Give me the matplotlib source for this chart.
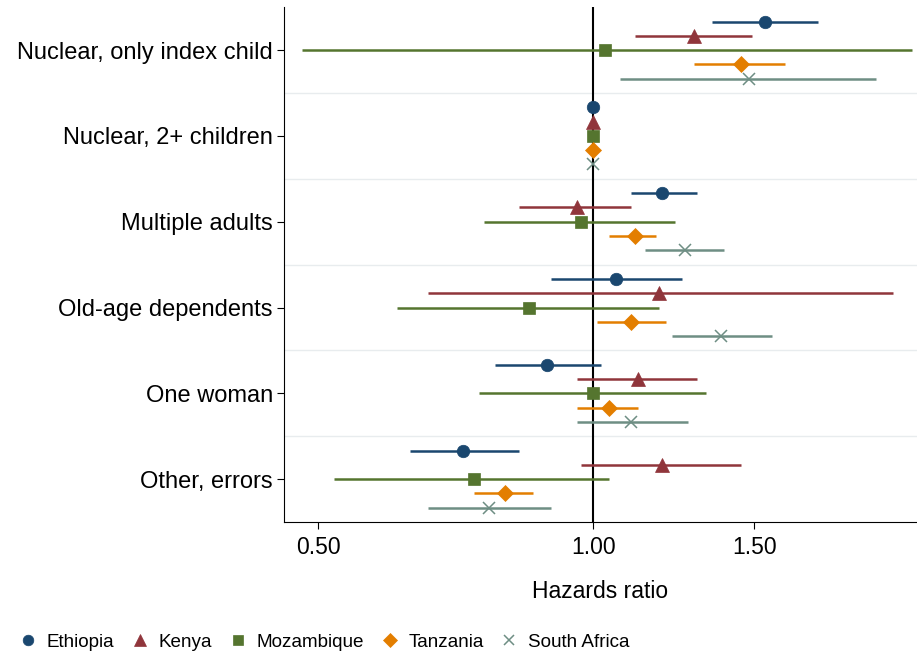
import numpy as np
import matplotlib.pyplot as plt

# Categories (top to bottom) and countries
categories = ['Nuclear, only index child', 'Nuclear, 2+ children', 'Multiple adults',
              'Old-age dependents', 'One woman', 'Other, errors']
countries = ['Ethiopia', 'Kenya', 'Mozambique', 'Tanzania', 'South Africa']

# Hazard ratios (point, lower, upper) per country, in category order
eth_hr = [1.54, 1.00, 1.19, 1.06, 0.89, 0.72]
eth_lo = [1.35, 1.00, 1.10, 0.90, 0.78, 0.63]
eth_hi = [1.76, 1.00, 1.30, 1.25, 1.02, 0.83]

ken_hr = [1.29, 1.00, 0.96, 1.18, 1.12, 1.19]
ken_lo = [1.11, 1.00, 0.83, 0.66, 0.96, 0.97]
ken_hi = [1.49, 1.00, 1.10, 2.13, 1.30, 1.45]

moz_hr = [1.03, 1.00, 0.97, 0.85, 1.00, 0.74]
moz_lo = [0.48, 1.00, 0.76, 0.61, 0.75, 0.52]
moz_hi = [2.23, 1.00, 1.23, 1.18, 1.33, 1.04]

tza_hr = [1.45, 1.00, 1.11, 1.10, 1.04, 0.80]
tza_lo = [1.29, 1.00, 1.04, 1.01, 0.96, 0.74]
tza_hi = [1.62, 1.00, 1.17, 1.20, 1.12, 0.86]

zaf_hr = [1.48, 1.00, 1.26, 1.38, 1.10, 0.77]
zaf_lo = [1.07, 1.00, 1.14, 1.22, 0.96, 0.66]
zaf_hi = [2.04, 1.00, 1.39, 1.57, 1.27, 0.90]

series = [(eth_hr, eth_lo, eth_hi), (ken_hr, ken_lo, ken_hi), (moz_hr, moz_lo, moz_hi),
          (tza_hr, tza_lo, tza_hi), (zaf_hr, zaf_lo, zaf_hi)]
colors = ['#1a476f', '#90353b', '#55752f', '#e37e00', '#6e8e84']
markers = ['o', '^', 's', 'D', 'x']
msizes = [9, 9.5, 8.5, 8.5, 9]

plt.rcParams['font.family'] = ['Liberation Sans', 'DejaVu Sans']

fig = plt.figure(figsize=(9.17, 6.55), dpi=100)
ax = fig.add_axes([0.3097, 0.203, 0.6903, 0.786])

ypos = np.arange(len(categories))
offsets = [-0.333, -0.166, 0.0, 0.166, 0.333]

# light separators between groups
for s in np.arange(0.5, len(categories) - 0.5, 1.0):
    ax.axhline(s, color='#e8ecee', lw=1, zorder=0)

ax.axvline(1.0, color='black', lw=1.5, zorder=1)

for (hr, lo, hi), c, m, ms, off, name in zip(series, colors, markers, msizes, offsets, countries):
    hr = np.array(hr); lo = np.array(lo); hi = np.array(hi)
    y = ypos + off
    ax.hlines(y, lo, hi, color=c, lw=1.8, zorder=2)
    mew = 1.1 if m == 'x' else 0.5
    ax.plot(hr, y, linestyle='none', marker=m, color=c, ms=ms, mew=mew,
            label=name, zorder=3)

ax.set_xscale('log')
ax.set_xlim(0.459, 2.26)
ax.set_ylim(len(categories) - 0.5, -0.5)
ax.set_xticks([0.5, 1.0, 1.5])
ax.set_xticklabels(['0.50', '1.00', '1.50'])
ax.minorticks_off()
ax.set_yticks(ypos)
ax.set_yticklabels(categories)
ax.tick_params(axis='y', labelsize=17, length=5, pad=3)
ax.tick_params(axis='x', labelsize=16.5, length=5, pad=5)
ax.set_xlabel('Hazards ratio', fontsize=16.5, labelpad=15)

ax.spines['top'].set_visible(False)
ax.spines['right'].set_visible(False)

handles, labels = ax.get_legend_handles_labels()
fig.legend(handles, labels, loc='center left', bbox_to_anchor=(0.022, 0.02), ncol=5,
           frameon=False, fontsize=13.6, handletextpad=0.6, columnspacing=0.95,
           handlelength=0.8, markerscale=0.85, borderpad=0, borderaxespad=0)

fig.savefig('out.png', dpi=100)
